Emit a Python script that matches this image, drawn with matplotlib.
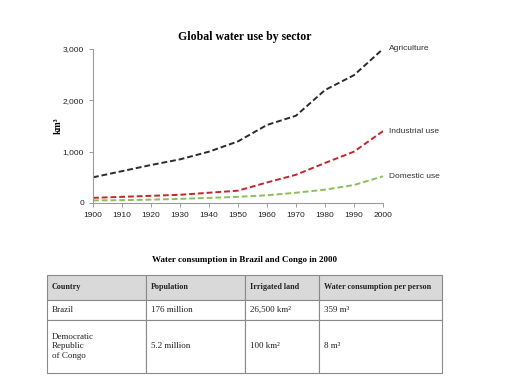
import matplotlib.pyplot as plt
from matplotlib.ticker import FuncFormatter

# Data
years = [1900, 1910, 1920, 1930, 1940, 1950, 1960, 1970, 1980, 1990, 2000]
agriculture = [500, 620, 740, 850, 1000, 1200, 1520, 1700, 2200, 2490, 3000]
industrial = [100, 120, 140, 160, 200, 240, 400, 550, 780, 1000, 1400]
domestic = [50, 55, 65, 80, 100, 120, 150, 200, 260, 350, 520]

series_names = ['Agriculture', 'Industrial use', 'Domestic use']
series_colors = ['#2b2b2b', '#c0282c', '#8cbf5b']

table_title = 'Water consumption in Brazil and Congo in 2000'
col_labels = ['Country', 'Population', 'Irrigated land', 'Water consumption per person']
countries = ['Brazil', 'Democratic\nRepublic\nof Congo']
population = ['176 million', '5.2 million']
irrigated = ['26,500 km²', '100 km²']
consumption = ['359 m³', '8 m³']

serif = 'Liberation Serif'
sans = 'Liberation Sans'

fig = plt.figure(figsize=(5.12, 3.9), dpi=100)

# Line chart
ax = fig.add_axes([0.1816, 0.4795, 0.5664, 0.3949])
for vals, name, color in zip([agriculture, industrial, domestic], series_names, series_colors):
    ax.plot(years, vals, color=color, lw=1.4, ls=(0, (3, 1.5)))
    ax.annotate(name, xy=(years[-1], vals[-1]), xytext=(4, 0), textcoords='offset points',
                fontsize=6, family=sans, color='#333333', va='center', ha='left')

ax.set_xlim(1900, 2000)
ax.set_ylim(0, 3000)
ax.set_xticks(years)
ax.set_yticks([0, 1000, 2000, 3000])
ax.yaxis.set_major_formatter(FuncFormatter(lambda v, p: f'{int(v):,}'))
for s in ['top', 'right']:
    ax.spines[s].set_visible(False)
for s in ['left', 'bottom']:
    ax.spines[s].set_color('#9a9a9a')
    ax.spines[s].set_linewidth(0.8)
ax.tick_params(axis='both', labelsize=6, colors='#9a9a9a', labelcolor='#222222', length=3, width=0.7)
for lbl in ax.get_xticklabels() + ax.get_yticklabels():
    lbl.set_family(sans)
ax.set_ylabel('km³', fontsize=7, family=serif, fontweight='bold', labelpad=0)
fig.text(0.478, 0.905, 'Global water use by sector', fontsize=8.5, family=serif,
         fontweight='bold', ha='center', va='center')

# Table
fig.text(0.478, 0.333, table_title, fontsize=6.5, family=serif, fontweight='bold', ha='center', va='center')

tax = fig.add_axes([0.0918, 0.0436, 0.7715, 0.2513])
tax.axis('off')
cell_text = [list(r) for r in zip(countries, population, irrigated, consumption)]
tbl = tax.table(cellText=cell_text, colLabels=col_labels, bbox=[0, 0, 1, 1],
                cellLoc='left', colLoc='left')
tbl.auto_set_font_size(False)
col_w = [99, 99, 74, 123]
row_h = [25, 20, 53]
for (r, c), cell in tbl.get_celld().items():
    cell.set_width(col_w[c])
    cell.set_height(row_h[r])
    cell.set_edgecolor('#8a8a8a')
    cell.set_linewidth(0.8)
    cell.PAD = 4.5 / col_w[c]
    txt = cell.get_text()
    txt.set_fontsize(6.5)
    txt.set_family(serif)
    txt.set_color('#222222')
    if r == 0:
        cell.set_facecolor('#d9d9d9')
        txt.set_fontweight('bold')
        txt.set_fontsize(5.9)

fig.savefig('out.png', dpi=100)
